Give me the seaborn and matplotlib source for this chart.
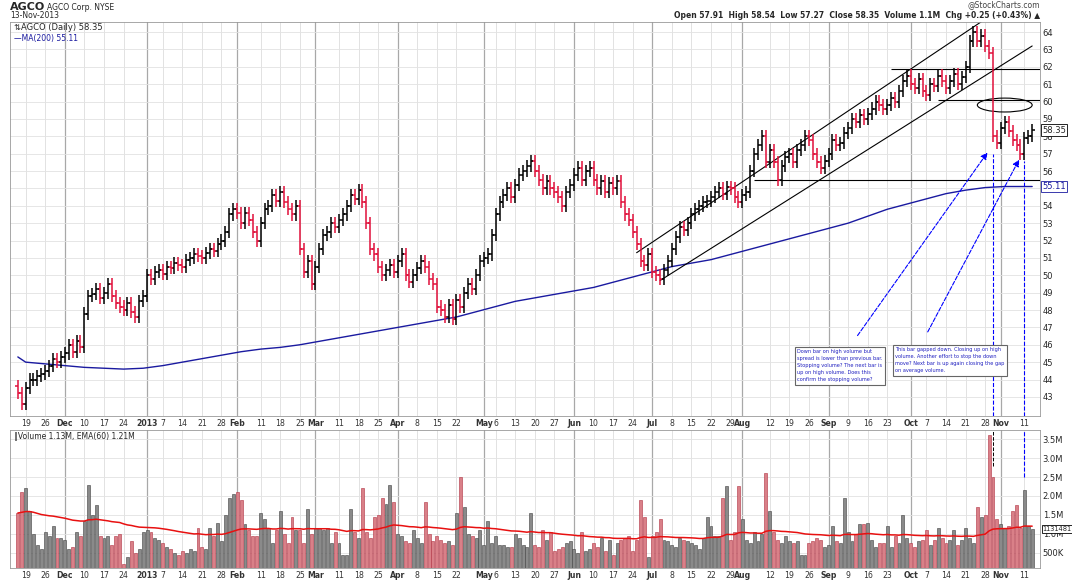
import numpy as np
import pandas as pd
import matplotlib
matplotlib.use("Agg")
import matplotlib.pyplot as plt
import seaborn as sns
from matplotlib.patches import Ellipse

sns.set_style("white")
plt.rcParams['font.family'] = ['DejaVu Sans']

# daily closes, grouped by week (Nov 15 2012 .. Nov 13 2013)
closes = [
    43.2, 42.6,
    43.5, 44.0, 44.0, 44.2, 44.3,
    44.5, 44.8, 45.2, 45.0, 45.3,
    45.5, 46.0, 45.6, 46.2, 45.9,
    47.8, 48.8, 48.9, 49.2, 48.7,
    49.0, 49.5, 48.8, 48.4, 48.2,
    48.0, 48.4, 47.9, 47.6, 48.5,
    48.8, 50.0, 49.8, 50.2, 50.3,
    50.1, 50.5, 50.4, 50.7, 50.6,
    50.5, 50.9, 51.0, 51.2, 51.1,
    51.0, 51.3, 51.5, 51.4, 51.8,
    52.0, 52.5, 53.5, 53.8, 53.6,
    53.0, 53.6, 53.2, 52.5, 52.0,
    53.0, 53.8, 54.0, 54.6, 54.3,
    54.8, 54.2, 53.8, 53.5, 54.0,
    51.5, 50.2, 50.8, 49.5, 50.5,
    51.5, 52.3, 52.5, 53.0, 52.8,
    53.2, 53.5, 54.0, 54.6, 54.4,
    54.9, 54.2, 53.0, 51.5, 51.2,
    50.5, 50.0, 50.3, 50.6, 50.2,
    50.8, 51.2, 50.0, 49.6, 50.0,
    50.4, 50.8, 50.5, 49.8, 49.5,
    48.2, 48.0, 47.6, 48.3, 47.5,
    48.6, 48.2, 49.0, 49.5, 49.2,
    50.0, 50.8, 51.0, 51.2, 52.3,
    53.5, 54.2, 54.6, 55.0, 54.5,
    55.2, 55.8, 56.0, 56.3, 56.6,
    56.0, 55.5, 55.0, 55.4, 55.0,
    54.8, 54.5, 54.0, 54.8, 55.2,
    55.8, 56.2, 55.5, 56.0, 56.2,
    55.5, 55.0, 55.4, 54.8, 55.3,
    55.0, 55.4, 54.2, 53.5, 53.2,
    52.5, 51.8, 50.8, 50.6, 51.2,
    50.2, 50.0, 49.8, 50.3, 50.8,
    51.5, 52.2, 52.8, 52.6, 53.0,
    53.5, 53.8, 54.0, 54.2, 54.3,
    54.5, 54.8, 55.0, 54.7, 55.1,
    55.0, 54.5, 54.2, 54.6, 54.8,
    56.0, 57.0, 57.5, 58.0, 56.5,
    57.2, 56.5, 55.5, 56.3, 56.8,
    57.0, 56.5, 57.2, 57.5, 58.0,
    57.8, 57.0, 56.5, 56.2, 56.6,
    57.0, 57.8, 57.5, 57.6, 58.2,
    58.5, 59.0, 58.8, 59.2, 59.0,
    59.3, 59.6, 60.0, 59.8, 59.6,
    59.8, 60.2, 60.0, 60.6, 61.2,
    61.5, 61.0, 60.8, 61.3, 60.6,
    60.4, 61.0, 60.9, 61.5, 61.2,
    60.8, 61.2, 61.6, 61.0, 61.4,
    62.0, 63.5, 64.0, 63.5, 63.8,
    63.2, 62.8, 58.0, 57.6, 58.5,
    58.8, 58.3, 57.8, 57.5, 57.0,
    57.9, 58.0, 58.35,
]

# daily volume in millions
volumes = [
    1.55, 2.1,
    2.2, 1.6, 1.0, 0.7, 0.6,
    1.05, 0.95, 1.2, 0.9, 0.9,
    0.85, 0.6, 0.65, 1.05, 0.95,
    1.35, 2.3, 1.5, 1.75, 0.95,
    0.9, 0.95, 0.7, 0.95, 1.0,
    0.2, 0.4, 0.8, 0.5, 0.6,
    1.05, 1.1, 1.05, 0.9, 0.85,
    0.75, 0.65, 0.6, 0.5, 0.45,
    0.55, 0.5, 0.6, 0.55, 1.15,
    0.65, 0.6, 1.15, 0.95, 1.3,
    0.8, 1.5, 1.95, 2.05, 2.1,
    1.9, 1.25, 1.1, 0.95, 0.95,
    1.55, 1.4, 1.15, 0.75, 1.1,
    1.6, 1.0, 0.75, 1.45, 1.1,
    1.1, 0.75, 1.65, 1.0, 1.15,
    1.15, 1.1, 1.15, 0.75, 1.05,
    0.75, 0.45, 0.45, 1.65, 1.05,
    0.9, 2.2, 1.05, 0.9, 1.45,
    1.5, 1.95, 1.8, 2.3, 1.85,
    1.0, 0.95, 0.8, 0.75, 1.1,
    0.9, 0.75, 1.85, 1.0, 0.8,
    0.95, 0.85, 0.75, 0.8, 0.7,
    1.55, 2.5, 1.7, 1.0, 0.95,
    0.9, 1.1, 0.7, 1.35, 0.75,
    0.95, 0.7, 0.7, 0.65, 0.65,
    1.0, 0.9, 0.7, 0.65, 1.55,
    0.7, 0.65, 1.1, 0.85, 1.05,
    0.55, 0.6, 0.65, 0.75, 0.8,
    0.6, 0.5, 1.05, 0.55, 0.6,
    0.75, 0.65, 0.9, 0.55, 0.85,
    0.45, 0.75, 0.85, 0.9, 0.95,
    0.55, 0.85, 1.9, 1.45, 0.4,
    0.95, 1.05, 1.4, 0.85, 0.8,
    0.7, 0.65, 0.9, 0.85, 0.8,
    0.75, 0.7, 0.6, 0.9, 1.45,
    1.2, 0.95, 0.95, 1.95, 2.25,
    0.85, 1.05, 2.25, 1.4, 0.85,
    0.75, 1.05, 0.8, 1.0, 2.6,
    1.6, 1.05, 0.85, 0.75, 0.95,
    0.8, 0.75, 0.8, 0.45, 0.45,
    0.75, 0.8, 0.9, 0.85, 0.65,
    0.7, 1.2, 0.8, 0.75, 1.95,
    1.05, 0.8, 1.0, 1.25, 1.25,
    1.3, 0.85, 0.65, 0.75, 0.75,
    1.2, 0.65, 0.95, 0.75, 1.5,
    0.9, 0.75, 0.65, 0.8, 0.85,
    1.1, 0.7, 0.85, 1.15, 0.9,
    0.75, 0.85, 1.1, 0.7, 0.85,
    1.15, 0.9, 0.75, 1.7, 1.45,
    1.5, 3.6, 2.5, 1.4, 1.25,
    1.15, 1.2, 1.6, 1.75, 1.15,
    2.15, 1.2, 1.13,
]

# 200-day moving average read weekly (one value per Monday from Nov 19)
ma200_start = 45.3
ma200_weekly = [45.0, 44.9, 44.8, 44.7, 44.65, 44.6, 44.65, 44.8, 45.0, 45.2,
                45.4, 45.6, 45.75, 45.85, 46.0, 46.2, 46.4, 46.6, 46.8, 47.0,
                47.2, 47.4, 47.6, 47.9, 48.2, 48.5, 48.7, 48.9, 49.1, 49.3,
                49.6, 49.9, 50.2, 50.5, 50.7, 50.9, 51.2, 51.5, 51.8, 52.1,
                52.4, 52.7, 53.0, 53.4, 53.8, 54.1, 54.4, 54.7, 54.9, 55.05,
                55.11]

dates = pd.bdate_range("2012-11-15", "2013-11-13")
n = len(closes)
x = np.arange(n)
c = np.array(closes)
o = np.r_[c[0] + 0.4, c[:-1]]
hi = np.maximum(o, c) + 0.35
lo = np.minimum(o, c) - 0.35
down = c < o
vol = np.array(volumes)
ema = pd.Series(vol).ewm(span=60, adjust=False).mean().values

W, H = 1072, 583
fig = plt.figure(figsize=(W / 100, H / 100), dpi=100)
def px_axes(l, t, r, b):
    return fig.add_axes([l / W, 1 - b / H, (r - l) / W, (b - t) / H])

ax = px_axes(10, 22, 1040, 416)
axv = px_axes(10, 430, 1040, 568)

# ticks: first trading day of each month + Mondays not too close to it
mondays = [i for i, d in enumerate(dates) if d.weekday() == 0]
month_starts = [i for i in range(1, n) if dates[i].month != dates[i - 1].month]
ticks, labels, bold = [], [], []
for i in sorted(set(mondays) | set(month_starts)):
    if i in month_starts:
        d = dates[i]
        ticks.append(i)
        labels.append("2013" if d.month == 1 else d.strftime("%b"))
        bold.append(True)
    elif not any(0 < abs(i - m) <= 2 for m in month_starts):
        ticks.append(i)
        labels.append(str(dates[i].day))
        bold.append(False)

for a in (ax, axv):
    a.set_xlim(-2, n + 1)
    a.set_xticks(ticks)
    a.set_xticklabels(labels, fontsize=5.6, color="#333333")
    for t, b in zip(a.get_xticklabels(), bold):
        if b:
            t.set_fontweight("bold")
    for i, b in zip(ticks, bold):
        a.axvline(i, color="#a8a8a8" if b else "#dddddd", lw=0.9 if b else 0.6, zorder=0)
    a.yaxis.tick_right()
    a.tick_params(axis="both", length=0, pad=2)
    a.tick_params(axis="y", labelsize=6)
    for s in a.spines.values():
        s.set_color("#999999")
        s.set_linewidth(0.6)

# price panel
ax.set_ylim(41.9, 64.58)
ax.set_yticks(range(43, 65))
for p in range(43, 65):
    ax.axhline(p, color="#e2e2e2", lw=0.6, zorder=0)
cols = np.where(down, "#e0103a", "black")
ax.vlines(x, lo, hi, colors=cols, lw=1.1, zorder=3)
ax.hlines(o, x - 0.6, x, colors=cols, lw=1.1, zorder=3)
ax.hlines(c, x, x + 0.6, colors=cols, lw=1.1, zorder=3)

ma_x = [0] + mondays[:len(ma200_weekly)] + [n - 1]
ma_y = [ma200_start] + ma200_weekly + [ma200_weekly[-1]]
sns.lineplot(x=ma_x, y=ma_y, ax=ax, color="#1a1aa0", lw=1, zorder=2)

# channel and levels
ax.plot([164, 259], [49.7, 63.2], color="black", lw=0.8)
ax.plot([158, 252], [51.3, 65.5], color="black", lw=0.8, clip_on=True)
ax.hlines(55.5, 188, n + 1, color="black", lw=0.8)
ax.hlines(61.9, 223, n + 1, color="black", lw=0.8)
ax.hlines(60.1, 235, n + 1, color="black", lw=0.8)
ax.add_patch(Ellipse((252, 59.8), 14, 0.8, fill=False, color="black", lw=0.8))

ax.annotate("", xy=(248, 57.2), xytext=(214, 46.4),
            arrowprops=dict(arrowstyle="-|>", ls="--", color="blue", lw=0.8))
ax.annotate("", xy=(256, 56.8), xytext=(232, 46.6),
            arrowprops=dict(arrowstyle="-|>", ls="--", color="blue", lw=0.8))
ax.vlines(249, 41.9, 57.0, color="blue", ls="--", lw=0.8)
ax.vlines(257, 41.9, 56.6, color="blue", ls="--", lw=0.8)

box = dict(boxstyle="square,pad=0.5", fc="white", ec="#666666", lw=0.8)
ax.text(199, 44.8, "Down bar on high volume but\nspread is lower than previous bar.\n"
        "Stopping volume? The next bar is\nup on high volume. Does this\n"
        "confirm the stopping volume?", fontsize=3.6, color="#2020c0", bbox=box,
        va="center", linespacing=1.5)
ax.text(224, 45.1, "This bar gapped down. Closing up on high\nvolume. Another effort to stop the down\n"
        "move? Next bar is up again closing the gap\non average volume.",
        fontsize=3.6, color="#2020c0", bbox=box, va="center", linespacing=1.5)

ax.text(-1, 64.5, "\u21c5AGCO (Daily) 58.35", fontsize=6, va="top")
ax.text(-1, 63.9, "\u2014MA(200) 55.11", fontsize=5.5, va="top", color="#1a1aa0")
ax.text(n + 1.6, 58.35, "58.35", fontsize=6, va="center",
        bbox=dict(boxstyle="square,pad=0.15", fc="white", ec="black", lw=0.6))
ax.text(n + 1.6, 55.11, "55.11", fontsize=6, va="center", color="#1a1aa0",
        bbox=dict(boxstyle="square,pad=0.15", fc="white", ec="#1a1aa0", lw=0.6))

# volume panel
vcols = np.where(down, "#d98088", "#8a8a8a")
vedge = np.where(down, "#b03040", "#404040")
axv.bar(x, vol, width=0.75, color=vcols, edgecolor=vedge, lw=0.4, zorder=2)
sns.lineplot(x=x, y=ema, ax=axv, color="#e81010", lw=1.1, zorder=3)
axv.set_ylim(0.1, 3.74)
axv.set_yticks([0.5, 1.0, 1.5, 2.0, 2.5, 3.0, 3.5])
axv.set_yticklabels(["500K", "1.0M", "1.5M", "2.0M", "2.5M", "3.0M", "3.5M"])
for v in [0.5, 1.0, 1.5, 2.0, 2.5, 3.0, 3.5]:
    axv.axhline(v, color="#e2e2e2", lw=0.6, zorder=0)
axv.vlines(249, 2.8, 3.74, color="black", ls="--", lw=0.7)
axv.vlines(257, 2.5, 3.74, color="blue", ls="--", lw=0.8)
axv.text(n + 1.6, 1.13, "1131481", fontsize=4.8, va="center",
         bbox=dict(boxstyle="square,pad=0.1", fc="white", ec="black", lw=0.6))
axv.text(-1, 3.68, "\u2016Volume 1.13M, EMA(60) 1.21M", fontsize=5.5, va="top")

fig.text(10 / W, 1 - 7 / H, "AGCO", fontsize=8, fontweight="bold", va="center")
fig.text(47 / W, 1 - 7 / H, "AGCO Corp. NYSE", fontsize=5.5, va="center")
fig.text(10 / W, 1 - 16 / H, "13-Nov-2013", fontsize=5.5, va="center")
fig.text(1040 / W, 1 - 5 / H, "@StockCharts.com", fontsize=5.5, ha="right",
         va="center", color="#444444")
fig.text(1040 / W, 1 - 15 / H, "Open 57.91  High 58.54  Low 57.27  Close 58.35  "
         "Volume 1.1M  Chg +0.25 (+0.43%) \u25b2", fontsize=5.5, ha="right",
         va="center", fontweight="bold")

fig.savefig("out.png", dpi=100)
